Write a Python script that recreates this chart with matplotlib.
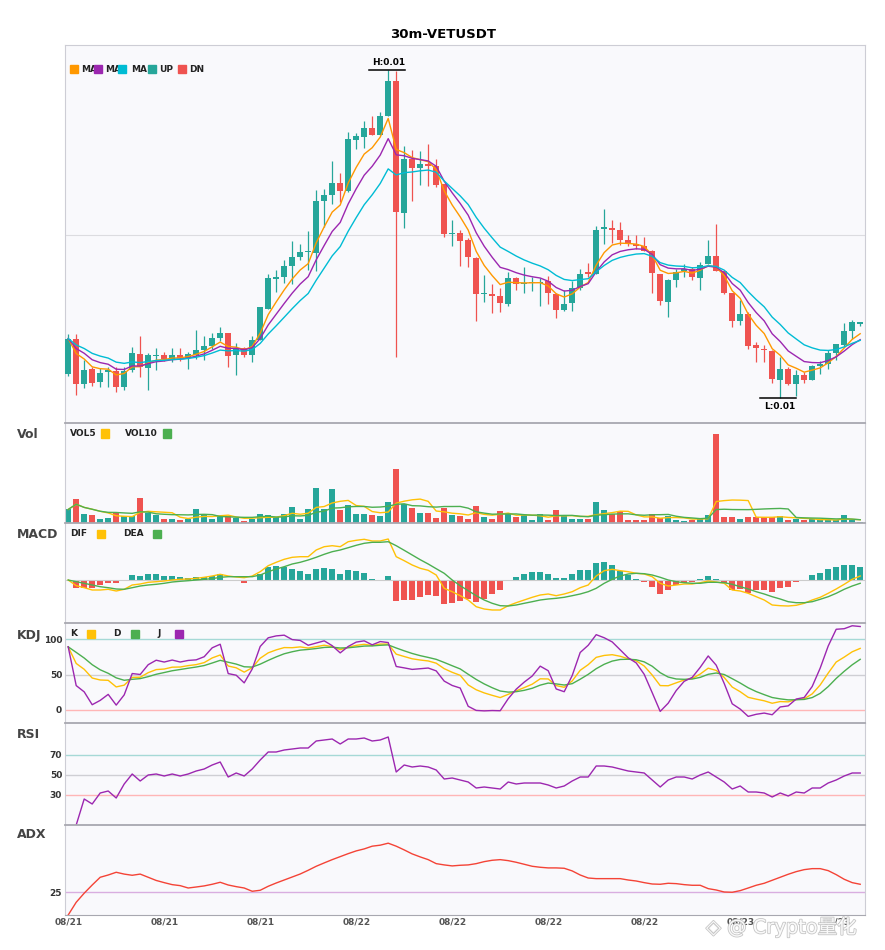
import numpy as np
import pandas as pd
import matplotlib
matplotlib.use('Agg')
import matplotlib.pyplot as plt
from matplotlib.patches import Rectangle
import matplotlib.patheffects as pe

plt.rcParams['font.family'] = ['DejaVu Sans', 'Noto Sans CJK SC']

# 30m VETUSDT candles, prices in 1e-6 USDT
opens = [14253, 14322, 14233, 14262, 14237, 14256, 14259, 14227, 14260, 14293,
         14265, 14288, 14290, 14283, 14290, 14285, 14291, 14300, 14308, 14325,
         14335, 14291, 14305, 14291, 14320, 14383, 14443, 14447, 14468, 14486,
         14496, 14495, 14598, 14610, 14635, 14618, 14720, 14727, 14745, 14730,
         14768, 14838, 14575, 14682, 14665, 14672, 14669, 14633, 14532, 14535,
         14520, 14485, 14412, 14413, 14408, 14392, 14445, 14432, 14434, 14434,
         14438, 14413, 14380, 14395, 14425, 14454, 14453, 14543, 14545, 14540,
         14521, 14512, 14509, 14498, 14452, 14397, 14440, 14459, 14463, 14445,
         14472, 14488, 14459, 14415, 14358, 14373, 14310, 14303, 14298, 14241,
         14263, 14232, 14250, 14240, 14269, 14273, 14295, 14311, 14338, 14353]
highs = [14332, 14332, 14280, 14267, 14264, 14267, 14267, 14267, 14307, 14328,
         14294, 14304, 14296, 14304, 14304, 14297, 14341, 14328, 14335, 14347,
         14335, 14315, 14306, 14328, 14387, 14453, 14461, 14480, 14519, 14512,
         14539, 14621, 14623, 14678, 14655, 14737, 14735, 14758, 14768, 14776,
         14860, 14858, 14708, 14701, 14699, 14713, 14682, 14633, 14560, 14540,
         14524, 14487, 14450, 14432, 14424, 14457, 14446, 14467, 14446, 14444,
         14448, 14414, 14421, 14438, 14463, 14475, 14549, 14583, 14560, 14557,
         14531, 14531, 14527, 14500, 14453, 14442, 14463, 14473, 14467, 14477,
         14520, 14552, 14459, 14415, 14400, 14377, 14317, 14310, 14300, 14287,
         14267, 14260, 14257, 14270, 14279, 14300, 14313, 14355, 14360, 14357]
lows = [14248, 14210, 14225, 14228, 14227, 14227, 14217, 14221, 14257, 14247,
        14220, 14260, 14278, 14277, 14278, 14263, 14283, 14281, 14303, 14318,
        14266, 14250, 14286, 14277, 14320, 14383, 14417, 14435, 14433, 14480,
        14460, 14459, 14547, 14593, 14597, 14617, 14703, 14705, 14730, 14730,
        14768, 14287, 14545, 14598, 14630, 14628, 14627, 14527, 14508, 14468,
        14467, 14359, 14397, 14375, 14377, 14388, 14421, 14415, 14418, 14388,
        14392, 14365, 14378, 14379, 14421, 14447, 14453, 14512, 14515, 14510,
        14508, 14503, 14498, 14415, 14390, 14367, 14427, 14447, 14441, 14421,
        14472, 14458, 14413, 14347, 14351, 14303, 14277, 14277, 14234, 14205,
        14230, 14209, 14235, 14240, 14253, 14263, 14280, 14308, 14323, 14349]
closes = [14323, 14233, 14260, 14235, 14255, 14260, 14227, 14259, 14293, 14267,
          14290, 14290, 14283, 14290, 14285, 14292, 14301, 14308, 14325, 14335,
          14289, 14303, 14290, 14320, 14387, 14445, 14447, 14468, 14486, 14496,
          14498, 14598, 14610, 14635, 14618, 14722, 14728, 14745, 14730, 14768,
          14838, 14577, 14682, 14665, 14672, 14669, 14630, 14533, 14533, 14519,
          14487, 14412, 14413, 14408, 14395, 14445, 14433, 14433, 14435, 14435,
          14415, 14381, 14393, 14425, 14453, 14453, 14540, 14545, 14540, 14521,
          14512, 14509, 14498, 14455, 14399, 14440, 14457, 14463, 14447, 14471,
          14488, 14459, 14415, 14358, 14373, 14308, 14305, 14300, 14242, 14263,
          14232, 14250, 14240, 14268, 14273, 14295, 14312, 14338, 14356, 14355]
# volume in thousands
volumes = [137, 243, 93, 83, 37, 53, 100, 67, 67, 253,
           103, 77, 43, 43, 27, 37, 143, 83, 37, 67,
           67, 50, 17, 43, 93, 83, 60, 93, 163, 43,
           137, 353, 137, 343, 127, 183, 93, 93, 83, 67,
           217, 543, 193, 153, 103, 103, 53, 153, 83, 73,
           43, 173, 63, 43, 123, 100, 63, 77, 33, 93,
           27, 133, 77, 43, 43, 43, 213, 133, 93, 117,
           33, 33, 33, 93, 50, 67, 33, 17, 33, 50,
           83, 903, 63, 63, 43, 63, 63, 57, 63, 73,
           27, 43, 27, 43, 27, 27, 27, 77, 27, 7]
# MACD in 1e-7 USDT
macd_dif = [0, -5.7, -7.7, -10, -10, -9.3, -11, -9.3, -5, -4,
            -2.3, -1.7, -1, 0, 0.7, 1, 1.7, 2.7, 4, 5.7,
            4, 3, 2.3, 4, 8.3, 14.3, 17.7, 20.7, 22.7, 23.3,
            23.3, 30, 33.3, 34.3, 33.3, 38.3, 39.7, 40.7, 39, 39,
            41, 23.3, 19.3, 15, 11.7, 9.7, 5, -8.3, -11.7, -15.7,
            -20, -26.7, -29, -30, -30, -25.7, -22.7, -20, -17.3, -15,
            -14, -15.7, -14, -11.7, -7.7, -5, 4, 9.3, 10.7, 9.3,
            8.3, 6.7, 6, 3.3, -3.3, -6, -5, -4, -4, -2.7,
            -1, -2, -3.3, -10, -11, -13.3, -16.7, -20, -25, -25.7,
            -26, -25.3, -23.3, -20, -17.3, -13.3, -9, -4.3, 0.7, 4]
macd_dea = [0, -1.7, -3.3, -5, -6.7, -7.7, -9, -9.3, -7.7, -6,
            -5, -4.3, -3.3, -2, -1.3, -0.7, 0, 0.7, 1.3, 2.7,
            3.3, 3.3, 3.3, 3.3, 5, 8.3, 11, 13.3, 16, 17.7,
            20, 22.7, 25.7, 28.3, 30, 32.3, 34.7, 36.7, 37.7, 37.7,
            38.3, 34.3, 29.7, 25, 20.3, 16, 11.3, 6.7, 0, -5.7,
            -10.7, -15.7, -20, -23.3, -25.7, -26, -25, -23.3, -21.7, -20,
            -19, -18.3, -17.3, -15.7, -14, -11.7, -8.3, -3.3, 0.7, 4,
            6, 6.7, 6.3, 5, 2.7, 0, -1.7, -2.7, -3.3, -3.3,
            -2.3, -2.3, -2.7, -4.3, -6.7, -9, -11.7, -14, -16.7, -19,
            -21.7, -22.7, -22.7, -21.7, -19.3, -16.7, -13.3, -9.3, -6, -3.3]
macd_hist = [0, -7.7, -7.7, -8.3, -5, -2.7, -3.3, 0, 5, 4,
             6, 6, 4, 4, 3, 2, 3, 3, 4, 5.7,
             0, -1, -2.7, -1, 6, 13.3, 14.3, 13.3, 11, 9,
             6, 11, 12.3, 11, 6, 10, 9, 7, 0.7, 0,
             4, -21, -20, -20, -17, -15, -15.7, -23.7, -22.7, -21,
             -19, -21.7, -19, -14, -10, -1, 3, 6, 8, 8,
             6, 2, 2, 6, 10, 10, 17, 18, 15, 9,
             5, 1, -2, -6.7, -14, -10, -5, -3.3, -2, 1,
             4, 1, -3.3, -10, -9, -13, -10, -10, -12, -8,
             -7, -2, 0, 5, 7, 11, 13, 15, 15, 13]
rsi_vals = [np.nan, 0, 26, 21, 32, 34, 27, 41, 51, 44,
            50, 51, 49, 51, 49, 51, 54, 56, 60, 63,
            48, 52, 49, 56, 65, 73, 73, 75, 76, 77,
            77, 84, 85, 86, 81, 86, 86, 87, 84, 85,
            88, 53, 60, 58, 59, 58, 55, 46, 47, 45,
            43, 37, 38, 37, 36, 43, 41, 42, 42, 42,
            40, 37, 39, 44, 48, 48, 59, 59, 58, 56,
            54, 53, 52, 45, 38, 45, 48, 48, 46, 50,
            53, 48, 43, 36, 39, 33, 33, 32, 28, 32,
            29, 33, 32, 37, 37, 42, 45, 49, 52, 52]
adx_vals = [0, 14, 24, 33, 41.5, 44, 47, 45, 43.7, 45,
            41.5, 38, 35.6, 33.4, 32.3, 29.7, 30.8, 32, 33.8, 36,
            33, 31.2, 29.7, 26.1, 27.2, 31.6, 35.2, 38.5, 41.8, 45.1,
            49.2, 53.6, 57.3, 60.9, 64.2, 67.5, 70.5, 72.7, 75.7, 76.8,
            79, 75.7, 71.6, 67.2, 63.9, 60.9, 56.5, 55.1, 54, 54.7,
            55.1, 56.5, 58.7, 60.2, 60.9, 59.8, 58, 55.8, 53.6, 52.5,
            51.8, 51.8, 51.4, 48.5, 44, 40.7, 40, 40, 40, 40,
            38.5, 37.4, 35.6, 34.1, 33.8, 34.9, 34.5, 33.4, 32.7, 32.7,
            29, 27.5, 25.3, 25, 26.8, 29.7, 32.7, 34.9, 38.2, 41.5,
            44.8, 47.7, 49.9, 51, 51, 48.8, 44.4, 39.3, 35.6, 33.8]
date_labels = ['08/21', '08/21', '08/21', '08/22', '08/22', '08/22', '08/22', '08/23', '08/23']

UP = '#26a69a'
DN = '#ef5350'
BG = '#f9f9fc'

df = pd.DataFrame({'open': opens, 'high': highs, 'low': lows, 'close': closes}) * 1e-6
df['vol'] = volumes
x = np.arange(len(df))
up = df['close'] >= df['open']
colors = np.where(up, UP, DN)

# moving averages (exponential)
ma5 = df['close'].ewm(span=5, adjust=False).mean()
ma8 = df['close'].ewm(span=8, adjust=False).mean()
ma13 = df['close'].ewm(span=13, adjust=False).mean()
vol5 = df['vol'].rolling(5, min_periods=1).mean()
vol10 = df['vol'].rolling(10, min_periods=1).mean()
hist = np.array(macd_hist)
# KDJ
low9 = df['low'].rolling(9, min_periods=1).min()
high9 = df['high'].rolling(9, min_periods=1).max()
rsv = (df['close'] - low9) / (high9 - low9) * 100
k = rsv.ewm(com=2, adjust=False).mean()
d = k.ewm(com=2, adjust=False).mean()
j = 3 * k - 2 * d

W, H = 885, 950
fig = plt.figure(figsize=(W / 100, H / 100), dpi=100)


def box(top, bottom):
    return [65 / W, 1 - bottom / H, 800 / W, (bottom - top) / H]


ax = fig.add_axes(box(45, 423))
axv = fig.add_axes(box(423, 523))
axm = fig.add_axes(box(523, 623))
axk = fig.add_axes(box(623, 723))
axr = fig.add_axes(box(723, 825))
axa = fig.add_axes(box(825, 915))
axes = [ax, axv, axm, axk, axr, axa]

for a in axes:
    a.set_facecolor(BG)
    a.set_xlim(-0.4, 99.6)
    a.tick_params(length=0, labelsize=6.5, colors='#333333', pad=2)
    a.set_xticks([])
    a.set_yticks([])
    for s in a.spines.values():
        s.set_color('#cdcdd5')
        s.set_linewidth(0.8)
for a in axes[1:]:
    a.spines['top'].set_color('#a8a8b0')
    a.spines['top'].set_linewidth(1.3)
axa.spines['bottom'].set_color('#a8a8b0')

# candles
ax.axhline(14530e-6, color='#dcdce0', lw=0.8, zorder=0)
ax.vlines(x, df['low'], df['high'], colors=colors, lw=0.9, zorder=2)
body = np.maximum((df['close'] - df['open']).abs(), 3e-6)
ax.bar(x, body, bottom=np.minimum(df['open'], df['close']), width=0.72, color=colors, zorder=3)
ax.plot(x, ma5, color='#ff9800', lw=1.0, zorder=4)
ax.plot(x, ma8, color='#9c27b0', lw=1.0, zorder=4)
ax.plot(x, ma13, color='#00bcd4', lw=1.0, zorder=4)
ax.set_ylim(14154e-6, 14910e-6)

ih = int(df['high'].idxmax())
hv = df['high'][ih]
ax.plot([ih - 2.4, ih + 2.1], [hv, hv], color='black', lw=1.1, zorder=5)
ax.annotate(f'H:{hv:.2f}', (ih, hv), xytext=(0, 2), textcoords='offset points',
            ha='center', va='bottom', fontsize=6.5, fontweight='bold')
il = int(df['low'].idxmin())
lv = df['low'][il]
ax.plot([il - 2.5, il + 2.0], [lv, lv], color='black', lw=1.1, zorder=5)
ax.annotate(f'L:{lv:.2f}', (il, lv), xytext=(0, -3), textcoords='offset points',
            ha='center', va='top', fontsize=6.5, fontweight='bold')

# volume
axv.bar(x, df['vol'], width=0.72, color=colors)
axv.plot(x, vol5, color='#ffc107', lw=1.0)
axv.plot(x, vol10, color='#4caf50', lw=1.0)
axv.set_ylim(0, df['vol'].max() * 1.12)

# macd
axm.axhline(0, color='#cccccc', lw=0.8)
axm.bar(x, hist, width=0.72, color=np.where(hist >= 0, UP, DN))
axm.plot(x, macd_dif, color='#ffc107', lw=1.0)
axm.plot(x, macd_dea, color='#4caf50', lw=1.0)
axm.set_ylim(-43, 57)

# kdj
axk.axhline(100, color='#a6d9d6', lw=1.0)
axk.axhline(50, color='#cfcfd4', lw=1.0)
axk.axhline(0, color='#ffb6b6', lw=1.0)
axk.plot(x, k, color='#ffc107', lw=1.0)
axk.plot(x, d, color='#4caf50', lw=1.0)
axk.plot(x, j, color='#9c27b0', lw=1.0)
axk.set_ylim(-18.4, 123)
axk.set_yticks([0, 50, 100])

# rsi
axr.axhline(70, color='#a6d9d6', lw=1.0)
axr.axhline(50, color='#cfcfd4', lw=1.0)
axr.axhline(30, color='#ffb6b6', lw=1.0)
axr.plot(x, rsi_vals, color='#9c27b0', lw=1.0)
axr.set_ylim(0, 102)
axr.set_yticks([30, 50, 70])

# adx
axa.axhline(25, color='#d9aee0', lw=1.0)
axa.plot(x, adx_vals, color='#f44336', lw=1.0)
axa.set_ylim(0, 99)
axa.set_yticks([25])
axa.set_xticks(range(0, 100, 12))
axa.set_xticklabels(date_labels, fontsize=6.5, fontweight='bold', color='#555555')

for a in (axk, axr, axa):
    for t in a.get_yticklabels():
        t.set_fontweight('bold')


def fx(px):
    return px / W


def fy(py):
    return 1 - py / H


# title and panel names
fig.text(fx(443), fy(34), '30m-VETUSDT', ha='center', va='center', fontsize=9.5, fontweight='bold')
for name, py in [('Vol', 435), ('MACD', 535), ('KDJ', 635), ('RSI', 735), ('ADX', 835)]:
    fig.text(fx(17), fy(py), name, ha='left', va='center', fontsize=9, fontweight='bold', color='#444444')

# legends (square + label)
legend_items = [
    (69, [(74, '#ff9800', 81, 'MA'), (98, '#9c27b0', 105, 'MA'), (122, '#00bcd4', 131, 'MA'),
          (152, UP, 159, 'UP'), (182, DN, 189, 'DN')]),
    (433.5, [(105, '#ffc107', 70, 'VOL5'), (167, '#4caf50', 125, 'VOL10')]),
    (534, [(101, '#ffc107', 70, 'DIF'), (157, '#4caf50', 123, 'DEA')]),
    (633.5, [(91, '#ffc107', 70, 'K'), (135, '#4caf50', 113, 'D'), (179, '#9c27b0', 157, 'J')]),
]
for py, items in legend_items:
    for sx, col, tx, label in items:
        fig.text(fx(tx), fy(py), label, ha='left', va='center', fontsize=6.5,
                 fontweight='bold', color='#222222', zorder=3)
        fig.add_artist(Rectangle((fx(sx - 4), fy(py + 4)), 8 / W, 8 / H, color=col,
                                 transform=fig.transFigure, zorder=4))

# watermark
fig.text(fx(706), fy(927), '◈ @ Crypto量化', ha='left', va='center', fontsize=14,
         color='white', alpha=0.9, zorder=5,
         path_effects=[pe.withStroke(linewidth=1.2, foreground='#c0c0c0')])

fig.savefig('out.png', dpi=100)
